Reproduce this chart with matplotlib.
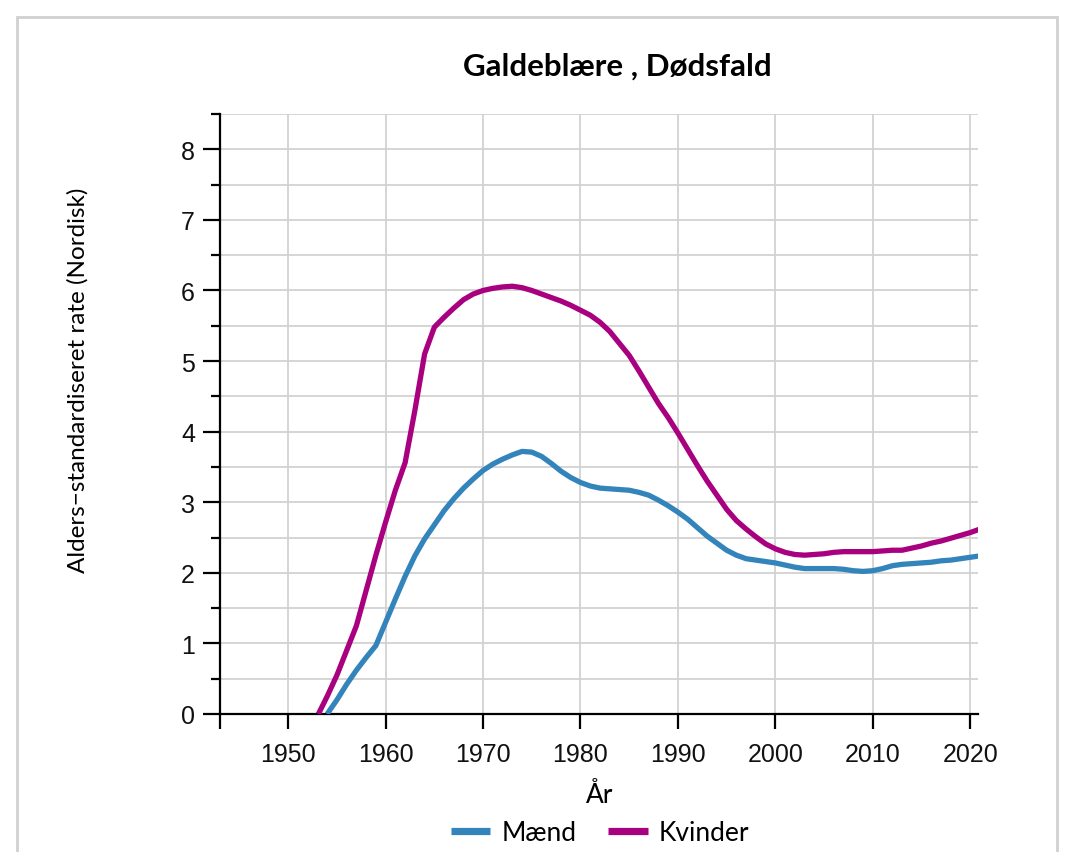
import matplotlib
matplotlib.use("Agg")
import matplotlib.pyplot as plt
from matplotlib.patches import Rectangle

title = "Galdeblære , Dødsfald"
xlabel = "År"
ylabel = "Alders\u2212standardiseret rate (Nordisk)"
series_names = ["Mænd", "Kvinder"]

years_k = [1953.1, 1954, 1955, 1956, 1957, 1958, 1959, 1960, 1961, 1962, 1963, 1964, 1965,
           1966, 1967, 1968, 1969, 1970, 1971, 1972, 1973, 1974, 1975, 1976, 1977, 1978,
           1979, 1980, 1981, 1982, 1983, 1984, 1985, 1986, 1987, 1988, 1989, 1990, 1991,
           1992, 1993, 1994, 1995, 1996, 1997, 1998, 1999, 2000, 2001, 2002, 2003, 2004,
           2005, 2006, 2007, 2008, 2009, 2010, 2011, 2012, 2013, 2014, 2015, 2016, 2017,
           2018, 2019, 2020, 2021]
kvinder = [0.0, 0.25, 0.55, 0.9, 1.25, 1.75, 2.25, 2.72, 3.17, 3.56, 4.3, 5.1, 5.48,
           5.62, 5.75, 5.87, 5.95, 6.0, 6.03, 6.05, 6.06, 6.04, 6.0, 5.95, 5.9, 5.85,
           5.79, 5.72, 5.65, 5.55, 5.42, 5.25, 5.08, 4.86, 4.63, 4.4, 4.2, 3.98, 3.75,
           3.52, 3.3, 3.1, 2.9, 2.74, 2.62, 2.51, 2.41, 2.34, 2.29, 2.26, 2.25, 2.26,
           2.27, 2.29, 2.3, 2.3, 2.3, 2.3, 2.31, 2.32, 2.32, 2.35, 2.38, 2.42, 2.45,
           2.49, 2.53, 2.57, 2.62]

years_m = [1954.0, 1955, 1956, 1957, 1958, 1959, 1960, 1961, 1962, 1963, 1964, 1965,
           1966, 1967, 1968, 1969, 1970, 1971, 1972, 1973, 1974, 1975, 1976, 1977, 1978,
           1979, 1980, 1981, 1982, 1983, 1984, 1985, 1986, 1987, 1988, 1989, 1990, 1991,
           1992, 1993, 1994, 1995, 1996, 1997, 1998, 1999, 2000, 2001, 2002, 2003, 2004,
           2005, 2006, 2007, 2008, 2009, 2010, 2011, 2012, 2013, 2014, 2015, 2016, 2017,
           2018, 2019, 2020, 2021]
maend = [0.0, 0.2, 0.42, 0.62, 0.8, 0.97, 1.3, 1.63, 1.95, 2.24, 2.48, 2.68,
         2.88, 3.05, 3.2, 3.33, 3.45, 3.54, 3.61, 3.67, 3.72, 3.71, 3.65, 3.55, 3.44,
         3.35, 3.28, 3.23, 3.2, 3.19, 3.18, 3.17, 3.14, 3.1, 3.03, 2.95, 2.86, 2.76,
         2.64, 2.52, 2.42, 2.32, 2.25, 2.2, 2.18, 2.16, 2.14, 2.11, 2.08, 2.06, 2.06,
         2.06, 2.06, 2.05, 2.03, 2.02, 2.03, 2.06, 2.1, 2.12, 2.13, 2.14, 2.15, 2.17,
         2.18, 2.2, 2.22, 2.24]

x_ticks = [1950, 1960, 1970, 1980, 1990, 2000, 2010, 2020]
y_ticks = [0, 1, 2, 3, 4, 5, 6, 7, 8]

blue = "#3484bc"
magenta = "#a8007f"

fig = plt.figure(figsize=(10.72, 8.53), dpi=100)
fig.patch.set_facecolor("white")
fig.patches.append(Rectangle((17 / 1072, -0.05), (1057 - 17) / 1072, 1.05 - 18 / 853,
                             transform=fig.transFigure, facecolor="white",
                             edgecolor="#d0d0d0", linewidth=2.0, zorder=-10))

ax = fig.add_axes([220 / 1072, 1 - 715 / 853, (978 - 220) / 1072, (715 - 115) / 853])
ax.set_facecolor("none")

ax.plot(years_m, maend, color=blue, lw=3.8, label=series_names[0], solid_capstyle="butt",
        solid_joinstyle="round", zorder=3)
ax.plot(years_k, kvinder, color=magenta, lw=3.8, label=series_names[1], solid_capstyle="butt",
        solid_joinstyle="round", zorder=3)

ax.set_xlim(1943, 2020.8)
ax.set_ylim(0, 8.5)
ax.set_xticks(x_ticks)
ax.set_yticks(y_ticks)
ax.set_yticks([v + 0.5 for v in y_ticks], minor=True)
ax.set_xticks([1943], minor=True)
ax.grid(True, which="both", color="#d2d2d2", lw=1.3, zorder=0)
ax.grid(False, which="minor", axis="x")
for s in ["top", "right"]:
    ax.spines[s].set_visible(False)
for s in ["left", "bottom"]:
    ax.spines[s].set_linewidth(1.6)
    ax.spines[s].set_color("black")

tick_font = "Liberation Sans"
ax.tick_params(axis="y", which="major", length=12, width=1.6, labelsize=18, pad=6)
ax.tick_params(axis="y", which="minor", length=6.5, width=1.6)
ax.tick_params(axis="x", which="major", length=11, width=1.6, labelsize=18, pad=9)
ax.tick_params(axis="x", which="minor", length=11, width=1.6)
for lab in ax.get_xticklabels() + ax.get_yticklabels():
    lab.set_fontfamily(tick_font)
    lab.set_color("#111111")

fig.text(617 / 1072, 1 - 67 / 853, title, ha="center", va="center",
         fontsize=22.5, fontweight="bold", family="Lato")
fig.text(600 / 1072, 1 - 796 / 853, xlabel, ha="center", va="center",
         fontsize=19, family="Lato")
fig.text(78 / 1072, 1 - 380 / 853, ylabel, ha="center", va="center",
         rotation=90, fontsize=17.5, family="Lato")

leg = fig.legend(loc="center", bbox_to_anchor=(600 / 1072, 1 - 834 / 853), ncol=2,
                 frameon=False, prop={"family": "Lato", "size": 19},
                 handlelength=1.5, handletextpad=0.42, columnspacing=1.2)
for h in leg.get_lines():
    h.set_linewidth(5.2)

fig.savefig("out.png", dpi=100)
